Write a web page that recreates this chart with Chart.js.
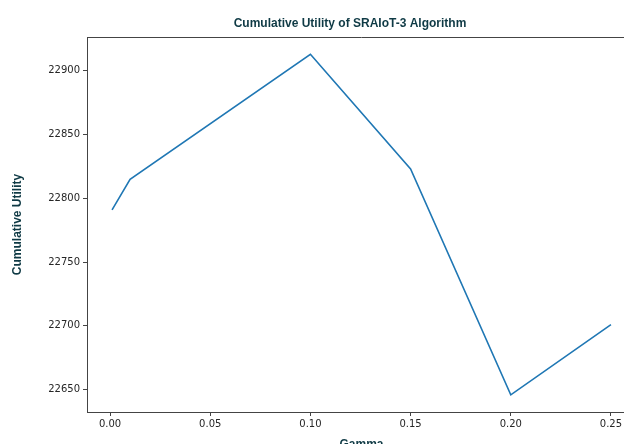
<!DOCTYPE html>
<html>
<head>
<meta charset="utf-8">
<script src="https://cdn.jsdelivr.net/npm/chart.js@4"></script>
<style>
html,body{margin:0;padding:0;background:#fff;overflow:hidden;width:624px;height:444px;}
#wrap{position:absolute;left:0;top:0;width:700px;height:460px;}
</style>
</head>
<body>
<div id="wrap"><canvas id="c" width="700" height="460"></canvas></div>
<script>
const gammaValues = [0.001, 0.01, 0.1, 0.15, 0.2, 0.25];
const utilityValues = [22791, 22815, 22913, 22823, 22646, 22701];
const xTickValues = [0.00, 0.05, 0.10, 0.15, 0.20, 0.25];
const yTickValues = [22650, 22700, 22750, 22800, 22850, 22900];

const chartTitle = 'Cumulative Utility of SRAIoT-3 Algorithm';
const xLabel = 'Gamma';
const yLabel = 'Cumulative Utility';

const labelColor = '#0f3a45';
const tickColor = '#262626';
const spineColor = '#444444';

const topSpine = {
  id: 'topSpine',
  afterDraw(chart) {
    const {ctx, chartArea: a} = chart;
    ctx.save();
    ctx.strokeStyle = spineColor;
    ctx.lineWidth = 1;
    ctx.beginPath();
    const y = Math.round(a.top) + 0.5;
    ctx.moveTo(a.left, y);
    ctx.lineTo(a.right, y);
    ctx.stroke();
    ctx.restore();
  }
};

new Chart(document.getElementById('c'), {
  type: 'line',
  data: {
    datasets: [{
      data: gammaValues.map((g, i) => ({x: g, y: utilityValues[i]})),
      borderColor: '#1f77b4',
      borderWidth: 1.6,
      pointRadius: 0,
      tension: 0,
      fill: false
    }]
  },
  options: {
    responsive: false,
    animation: false,
    layout: {padding: 0},
    plugins: {
      legend: {display: false},
      tooltip: {enabled: false},
      title: {
        display: true,
        text: chartTitle,
        color: labelColor,
        font: {family: 'Liberation Sans', size: 12, weight: 'bold', lineHeight: 1.2},
        padding: {top: 16, bottom: 6.6}
      }
    },
    scales: {
      x: {
        type: 'linear',
        min: -0.0115,
        max: 0.2625,
        afterFit(s) { s.height = 48; },
        afterBuildTicks(s) { s.ticks = xTickValues.map(v => ({value: v})); },
        ticks: {
          callback: v => Number(v).toFixed(2),
          color: tickColor,
          font: {family: 'DejaVu Sans', size: 10},
          padding: 2,
          maxRotation: 0,
          autoSkip: false
        },
        grid: {drawOnChartArea: false, drawTicks: true, tickLength: 4, color: spineColor, tickColor: spineColor},
        border: {display: true, color: spineColor, width: 1},
        title: {
          display: true,
          text: xLabel,
          color: labelColor,
          font: {family: 'Liberation Sans', size: 12, weight: 'bold', lineHeight: 1.2},
          padding: {top: 4, bottom: 7.8}
        }
      },
      y: {
        type: 'linear',
        min: 22632.5,
        max: 22926.5,
        afterFit(s) { s.width = 87; },
        afterBuildTicks(s) { s.ticks = yTickValues.map(v => ({value: v})); },
        ticks: {
          callback: v => String(v),
          color: tickColor,
          font: {family: 'DejaVu Sans', size: 10},
          padding: 3,
          autoSkip: false
        },
        grid: {drawOnChartArea: false, drawTicks: true, tickLength: 4, color: spineColor, tickColor: spineColor},
        border: {display: true, color: spineColor, width: 1},
        title: {
          display: true,
          text: yLabel,
          color: labelColor,
          font: {family: 'Liberation Sans', size: 12, weight: 'bold', lineHeight: 1.2},
          padding: {top: 10.3, bottom: 4}
        }
      },
      ySpacer: {
        type: 'linear',
        position: 'right',
        display: true,
        afterFit(s) { s.width = 64; },
        ticks: {display: false},
        grid: {display: false},
        border: {display: false},
        title: {display: false}
      }
    }
  },
  plugins: [topSpine]
});
</script>
</body>
</html>
